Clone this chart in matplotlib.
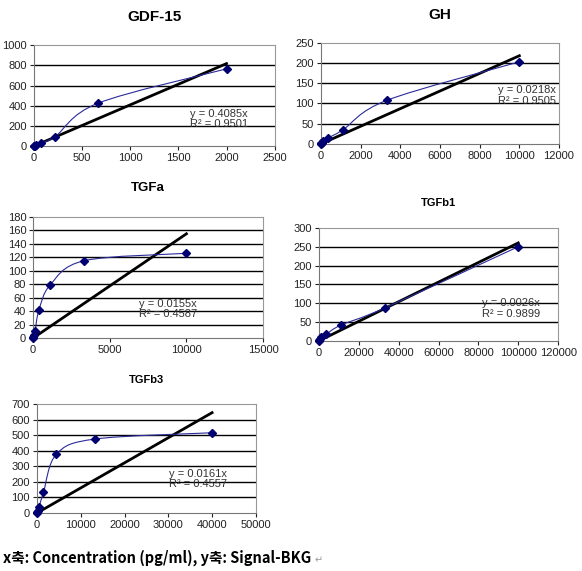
import matplotlib.pyplot as plt
from matplotlib.path import Path
from matplotlib.patches import PathPatch

plt.rcParams['font.family'] = ['Liberation Sans', 'DejaVu Sans']

gdf_x = [0, 2.7, 8.2, 24.7, 74.1, 222.2, 666.7, 2000]
gdf_y = [0, 2, 5, 10, 35, 95, 425, 765]
gh_x = [0, 13.7, 41, 123, 370, 1111, 3333, 10000]
gh_y = [0, 1, 3, 8, 15, 35, 108, 203]
tgfa_x = [0, 13.7, 41, 123, 370, 1111, 3333, 10000]
tgfa_y = [0, 2, 5, 10, 41, 79, 115, 126]
tgfb1_x = [0, 137, 412, 1235, 3704, 11111, 33333, 100000]
tgfb1_y = [0, 3, 6, 10, 18, 42, 88, 250]
tgfb3_x = [0, 55, 165, 494, 1481, 4444, 13333, 40000]
tgfb3_y = [0, 5, 10, 40, 133, 378, 475, 515]

slopes = [0.4085, 0.0218, 0.0155, 0.0026, 0.0161]
r2 = [0.9501, 0.9505, 0.4587, 0.9899, 0.4557]
titles = ['GDF-15', 'GH', 'TGFa', 'TGFb1', 'TGFb3']


def smooth_path(xs, ys):
    """excel-like smoothed line as bezier segments"""
    pts = list(zip(xs, ys))
    verts = [pts[0]]
    codes = [Path.MOVETO]
    n = len(pts)
    for i in range(n - 1):
        p0 = pts[max(i - 1, 0)]
        p1 = pts[i]
        p2 = pts[i + 1]
        p3 = pts[min(i + 2, n - 1)]
        c1 = (p1[0] + (p2[0] - p0[0]) / 6, p1[1] + (p2[1] - p0[1]) / 6)
        c2 = (p2[0] - (p3[0] - p1[0]) / 6, p2[1] - (p3[1] - p1[1]) / 6)
        verts += [c1, c2, p2]
        codes += [Path.CURVE4] * 3
    return Path(verts, codes)


def panel(rect, xs, ys, k, r, title, xmax, xstep, ymax, ystep, txt, tsize, tpad):
    ax = fig.add_axes(rect)
    ax.set_xlim(0, xmax)
    ax.set_ylim(0, ymax)
    ax.set_xticks(range(0, xmax + 1, xstep))
    ax.set_yticks(range(0, ymax + 1, ystep))
    ax.tick_params(labelsize=8, length=3, width=0.8, pad=2, colors='#222222')
    for s in ['left', 'bottom']:
        ax.spines[s].set_color('#777777')
    for s in ['top', 'right']:
        ax.spines[s].set_color('#999999')
    for yv in range(ystep, ymax, ystep):
        ax.axhline(yv, color='black', lw=1, zorder=1)
    ax.add_patch(PathPatch(smooth_path(xs, ys), fill=False, ec='#2a2a9a', lw=0.8, zorder=3))
    ax.plot(xs, ys, 'D', color='#000070', ms=4, zorder=4, clip_on=False)
    ax.plot([0, xs[-1]], [0, k * xs[-1]], color='black', lw=2, zorder=2)
    ax.text(txt[0], txt[1], 'y = %sx\nR² = %s' % (k, r), fontsize=8,
            color='#333333', linespacing=1.05, zorder=5)
    ax.set_title(title, fontsize=tsize, fontweight='bold', pad=tpad)
    return ax


fig = plt.figure(figsize=(5.82, 5.71), dpi=100)

panel([0.058, 0.744, 0.414, 0.177], gdf_x, gdf_y, slopes[0], r2[0], titles[0],
      2500, 500, 1000, 200, (1620, 190), 11, 17)
panel([0.5515, 0.748, 0.409, 0.177], gh_x, gh_y, slopes[1], r2[1], titles[1],
      12000, 2000, 250, 50, (8900, 99), 11, 17)
panel([0.057, 0.408, 0.395, 0.212], tgfa_x, tgfa_y, slopes[2], r2[2], titles[2],
      15000, 5000, 180, 20, (6900, 31), 9.5, 19)
panel([0.548, 0.403, 0.411, 0.198], tgfb1_x, tgfb1_y, slopes[3], r2[3], titles[3],
      120000, 20000, 300, 50, (81800, 64), 8, 16)
panel([0.0636, 0.1016, 0.376, 0.191], tgfb3_x, tgfb3_y, slopes[4], r2[4], titles[4],
      50000, 10000, 700, 100, (30100, 167), 8, 15)

fig.text(0.005, 0.014, 'x축: Concentration (pg/ml), y축: Signal-BKG',
         family=['Noto Sans CJK KR', 'DejaVu Sans'], fontsize=10.5, fontweight='bold')
fig.text(0.54, 0.014, '↵', family=['DejaVu Sans'], fontsize=7, color='#999999')

fig.savefig('out.png', dpi=100)
